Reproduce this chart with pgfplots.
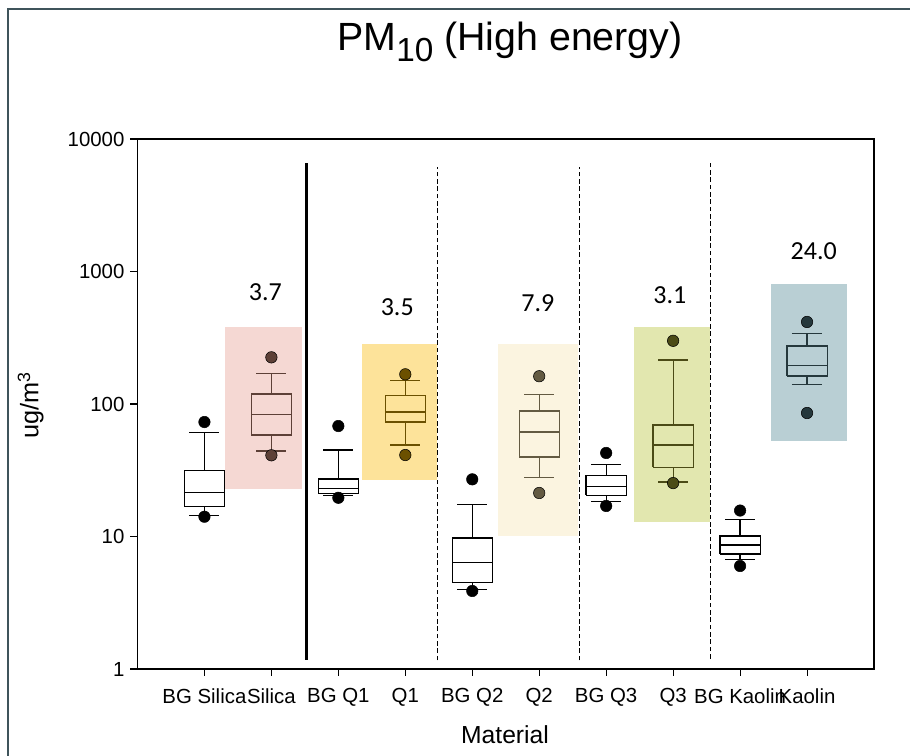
\documentclass[border=0pt]{standalone}
\usepackage{pgfplots}
\pgfplotsset{compat=1.18}
\usepackage{fontspec}
\setmainfont{Liberation Sans}
\newfontfamily\calibri{Carlito}
\definecolor{frameC}{HTML}{3F545B}
\definecolor{silR}{HTML}{F5D8D3}
\definecolor{silB}{HTML}{5D4037}
\definecolor{qoneR}{HTML}{FDE39A}
\definecolor{qoneB}{HTML}{6B5000}
\definecolor{qtwoR}{HTML}{FBF4E0}
\definecolor{qtwoB}{HTML}{635A42}
\definecolor{qthrR}{HTML}{E2E7AF}
\definecolor{qthrB}{HTML}{4B4B16}
\definecolor{kaoR}{HTML}{B9CFD4}
\definecolor{kaoB}{HTML}{25383C}
% #1 pos, #2 lower whisker, #3 Q1, #4 median, #5 Q3, #6 upper whisker, #7 line colour, #8 fill
\newcommand{\bx}[8]{%
  \pgfmathsetmacro\xl{#1-0.3}%
  \pgfmathsetmacro\xr{#1+0.3}%
  \pgfmathsetmacro\cl{#1-0.225}%
  \pgfmathsetmacro\cr{#1+0.225}%
  \edef\tmp{%
    \noexpand\addplot[draw=#7, fill=#8, line width=0.9pt, line join=miter] coordinates {(\xl,#3) (\xr,#3) (\xr,#5) (\xl,#5) (\xl,#3)};
    \noexpand\addplot[draw=#7, line width=0.9pt] coordinates {(\xl,#4) (\xr,#4)};
    \noexpand\addplot[draw=#7, line width=0.9pt] coordinates {(#1,#5) (#1,#6)};
    \noexpand\addplot[draw=#7, line width=0.9pt] coordinates {(#1,#3) (#1,#2)};
    \noexpand\addplot[draw=#7, line width=0.9pt] coordinates {(\cl,#6) (\cr,#6)};
    \noexpand\addplot[draw=#7, line width=0.9pt] coordinates {(\cl,#2) (\cr,#2)};
  }\tmp}
\begin{document}
\begin{tikzpicture}
\useasboundingbox (0,0) rectangle (682.5pt,567pt);
\draw[color=frameC, line width=1.6pt] (6pt,-5pt) -- (6pt,560.5pt) -- (690pt,560.5pt);
\node[font=\fontsize{29.5}{31}\selectfont] at (382.5pt,535.5pt) {PM\raisebox{-0.28em}{\fontsize{25}{25}\selectfont 10} (High energy)};
\node[font=\fontsize{18.5}{20}\selectfont] at (378.75pt,15.75pt) {Material};
\node[font=\fontsize{19}{20}\selectfont, rotate=90] at (23pt,263.25pt) {ug/m\textsuperscript{3}};
\begin{axis}[
  at={(103.1pt,65.25pt)}, anchor=south west,
  width=552.4pt, height=397.5pt, scale only axis,
  ymode=log, ymin=1, ymax=10000, xmin=-1, xmax=10,
  xtick={0,...,9},
  xticklabels={BG Silica,Silica,BG Q1,Q1,BG Q2,Q2,BG Q3,Q3,BG Kaolin,Kaolin},
  ytick={1,10,100,1000,10000},
  yticklabels={1,10,100,1000,10000},
  yminorticks=false, xminorticks=false,
  tick align=outside, xtick pos=bottom, ytick pos=left,
  major tick length=5.25pt,
  tick style={line width=0.8pt, black},
  axis line style={line width=0.9pt},
  tick label style={font=\fontsize{15.3}{15.3}\selectfont},
  xticklabel style={yshift=-6pt},
  yticklabel style={xshift=-1pt},
  /pgf/number format/assume math mode=true,
  clip=false,
]
% shaded backgrounds
\addplot[fill=silR, draw=none] coordinates {(0.31,22.8) (1.45,22.8) (1.45,381) (0.31,381)};
\addplot[fill=qoneR, draw=none] coordinates {(2.35,26.7) (3.48,26.7) (3.48,284) (2.35,284)};
\addplot[fill=qtwoR, draw=none] coordinates {(4.38,10.1) (5.58,10.1) (5.58,284) (4.38,284)};
\addplot[fill=qthrR, draw=none] coordinates {(6.41,12.9) (7.55,12.9) (7.55,381) (6.41,381)};
\addplot[fill=kaoR, draw=none] coordinates {(8.46,52.6) (9.60,52.6) (9.60,805) (8.46,805)};
% separators
\addplot[black, line width=2.3pt] coordinates {(1.53,1.17) (1.53,6590)};
\addplot[black, line width=1pt, dash pattern=on 3.5pt off 2pt] coordinates {(3.48,1.16) (3.48,6200)};
\addplot[black, line width=1pt, dash pattern=on 3.5pt off 2pt] coordinates {(5.60,1.16) (5.60,6200)};
\addplot[black, line width=1pt, dash pattern=on 3.5pt off 2pt] coordinates {(7.56,1.2) (7.56,6600)};
% boxes
\bx{0}{14.5}{16.8}{21.6}{31.4}{60.7}{black}{white}
\bx{1}{44.2}{58.3}{83}{119}{169}{silB}{none}
\bx{2}{20.3}{21.0}{22.9}{27.2}{45}{black}{white}
\bx{3}{49}{73.1}{87}{116}{150}{qoneB}{none}
\bx{4}{3.99}{4.48}{6.39}{9.74}{17.5}{black}{white}
\bx{5}{27.7}{39.8}{61.5}{88.5}{118}{qtwoB}{none}
\bx{6}{18.5}{20.5}{23.9}{28.8}{34.8}{black}{white}
\bx{7}{25.8}{33.3}{49}{69.5}{215}{qthrB}{none}
\bx{8}{6.68}{7.38}{8.63}{10.1}{13.4}{black}{white}
\bx{9}{140.8}{162.6}{194.6}{274}{339}{kaoB}{none}
% outliers
\addplot[only marks, mark=*, mark size=4.3pt, mark options={fill=black, draw=none}] coordinates {(0,73.1) (0,14.1) (2,68.2) (2,19.6) (4,27) (4,3.88) (6,42.7) (6,17.0) (8,15.7) (8,5.99)};
\addplot[only marks, mark=*, mark size=4.3pt, mark options={fill=silB, draw=none}] coordinates {(1,225) (1,41)};
\addplot[only marks, mark=*, mark size=4.3pt, mark options={fill=qoneB, draw=none}] coordinates {(3,167.5) (3,41.2)};
\addplot[only marks, mark=*, mark size=4.3pt, mark options={fill=qtwoB, draw=none}] coordinates {(5,162) (5,21.3)};
\addplot[only marks, mark=*, mark size=4.3pt, mark options={fill=qthrB, draw=none}] coordinates {(7,300) (7,25.3)};
\addplot[only marks, mark=*, mark size=4.3pt, mark options={fill=kaoB, draw=none}] coordinates {(9,416) (9,85.5)};
% ratio labels
\node[font=\calibri\fontsize{19.5}{20}\selectfont] at (axis cs:0.91,700) {3.7};
\node[font=\calibri\fontsize{19.5}{20}\selectfont] at (axis cs:2.88,540) {3.5};
\node[font=\calibri\fontsize{19.5}{20}\selectfont] at (axis cs:4.98,578) {7.9};
\node[font=\calibri\fontsize{19.5}{20}\selectfont] at (axis cs:6.95,665) {3.1};
\node[font=\calibri\fontsize{19.5}{20}\selectfont] at (axis cs:9.10,1428) {24.0};
\end{axis}
\end{tikzpicture}
\end{document}
